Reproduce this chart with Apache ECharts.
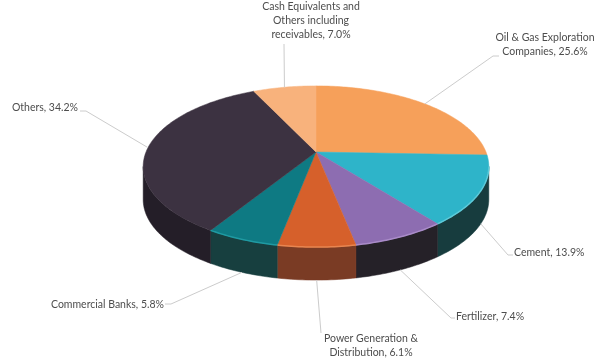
<!DOCTYPE html>
<html><head><meta charset="utf-8">
<script src="https://cdn.jsdelivr.net/npm/echarts@6/dist/echarts.min.js"></script>
<style>html,body{margin:0;padding:0;background:#fff}#c{width:596px;height:363px}</style>
</head><body><div id="c"></div>
<script>
// ---- data ----
const categories = ['Oil & Gas Exploration\nCompanies', 'Cement', 'Fertilizer', 'Power Generation &\nDistribution', 'Commercial Banks', 'Others', 'Cash Equivalents and\nOthers including\nreceivables'];
const values = [25.6, 13.9, 7.4, 6.1, 5.8, 34.2, 7.0];

// ---- styles ----
const topColors  = ['#F6A05A', '#2EB4C9', '#8D6DB1', '#D6602B', '#0E7A83', '#3C3241', '#F8B27C'];
const sideColors = ['#A8612C', '#173C3E', '#252128', '#7A3B24', '#173F3F', '#241E28', '#A87250'];
const rimColors  = ['#F9B57A', '#5CC9D8', '#A98BC8', '#E88550', '#1F9AA2', '#54476000', '#FAC79C'];
// label layout: [textX, textY, align, elbowX, elbowY, endX, endY]
const labelLayout = [
  [545, 45, 'center', 493, 56, 499, 56],
  [514, 253, 'left', 508, 255, 513, 255],
  [456, 317, 'left', 451, 318, 455, 318],
  [371, 346, 'center', 321, 333, 321, 333],
  [164, 305, 'right', 171, 304, 165, 304],
  [78, 108, 'right', 86, 111, 80, 111],
  [311, 21, 'center', 284, 44, 284, 44]
];

// ---- geometry ----
const CX = 316, CY = 152, SX = 170, SY = 78, K = 0.18, H = 33;
function proj(t) {
  const x = Math.sin(t), z = -Math.cos(t), w = 1 - K * z;
  return [CX + SX * x / w, CY + SY * z / w, z];
}
const total = values.reduce((a, b) => a + b, 0);
const starts = [];
{ let acc = 0; values.forEach(v => { starts.push(acc); acc += v; }); }
const thR = Math.acos(-K), thL = 2 * Math.PI - thR;

function arc(a0, a1) {
  const pts = [];
  const n = Math.max(2, Math.ceil((a1 - a0) / (Math.PI / 180)));
  for (let i = 0; i <= n; i++) { const p = proj(a0 + (a1 - a0) * i / n); pts.push([p[0], p[1]]); }
  return pts;
}

function renderItem(params, api) {
  const i = params.dataIndex;
  const v = api.value(0);
  const a0 = starts[i] / total * 2 * Math.PI;
  const a1 = a0 + v / total * 2 * Math.PI;
  const children = [];
  const s0 = Math.max(a0, thR), s1 = Math.min(a1, thL);
  if (s1 > s0) {
    const topA = arc(s0, s1);
    const botA = topA.map(p => [p[0], p[1] + H]).reverse();
    children.push({ type: 'polygon', z2: 1, shape: { points: topA.concat(botA) },
      style: { fill: sideColors[i], stroke: sideColors[i], lineWidth: 0.5 } });
    children.push({ type: 'polyline', z2: 6, shape: { points: topA },
      style: { fill: null, stroke: rimColors[i], lineWidth: 1.5 } });
  }
  const pts = [[CX, CY]].concat(arc(a0, a1));
  children.push({ type: 'polygon', z2: 5, shape: { points: pts },
    style: { fill: topColors[i], stroke: topColors[i], lineWidth: 0.5 } });
  const m = proj((a0 + a1) / 2);
  const start = [m[0], m[1] + (m[2] > 0.3 ? H : 0)];
  const L = labelLayout[i];
  children.push({ type: 'polyline', z2: 8, shape: { points: [start, [L[3], L[4]], [L[5], L[6]]] },
    style: { fill: null, stroke: '#CCCCCC', lineWidth: 1 } });
  children.push({ type: 'text', z2: 9, x: L[0], y: L[1],
    style: { text: categories[i] + ', ' + v.toFixed(1) + '%', align: L[2], verticalAlign: 'middle',
      fill: '#4D4D4D', font: '10.5px Lato', lineHeight: 14 } });
  return { type: 'group', children };
}

const chart = echarts.init(document.getElementById('c'), null, { renderer: 'canvas' });
chart.setOption({
  backgroundColor: '#ffffff',
  animation: false,
  series: [{ type: 'custom', coordinateSystem: 'none', renderItem, data: values.map(v => [v]) }]
});
</script></body></html>
